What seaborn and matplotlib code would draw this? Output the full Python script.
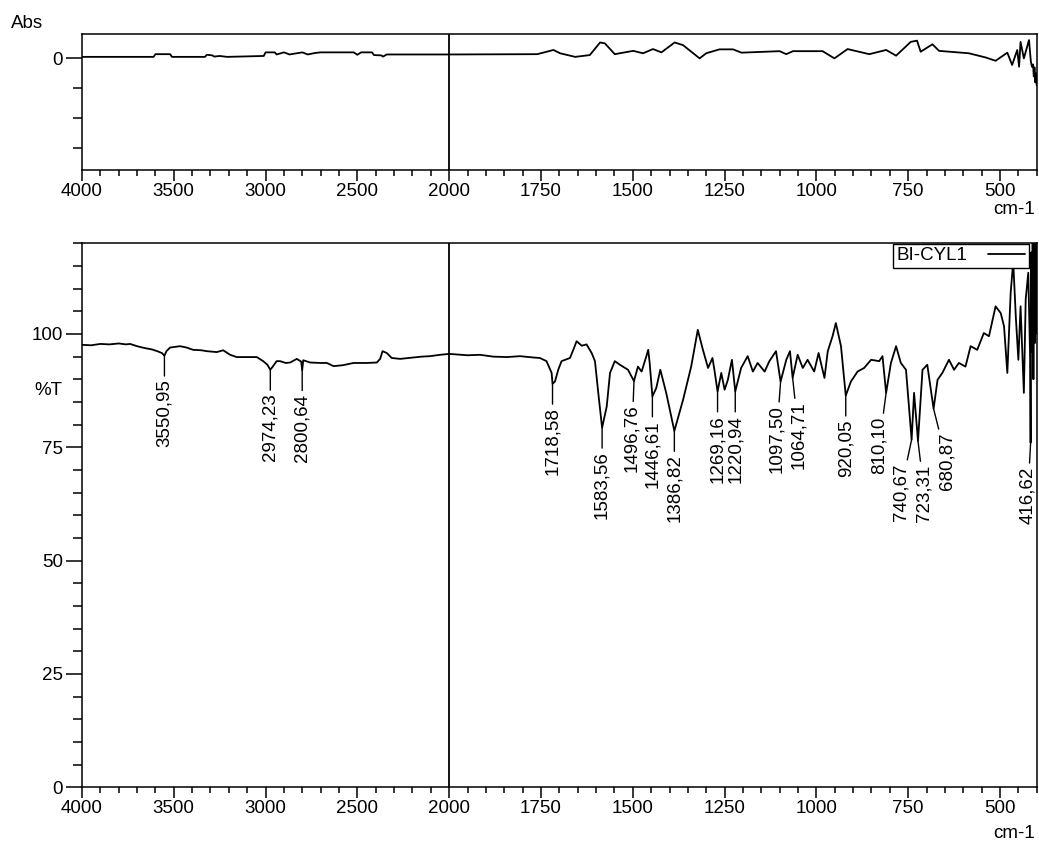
import numpy as np
import pandas as pd
import matplotlib
matplotlib.use("Agg")
import matplotlib.pyplot as plt
from matplotlib.ticker import FixedLocator, NullFormatter
import seaborn as sns

# %T spectrum (wavenumber in cm-1, transmittance in %)
wn_t = [4000, 3950, 3900, 3850, 3800, 3760, 3738, 3700, 3660, 3620, 3590, 3565,
        3550.95, 3540, 3520, 3466, 3430, 3395, 3350, 3320, 3266, 3231, 3193, 3157,
        3100, 3048, 3013, 2990, 2974.23, 2959, 2940, 2921, 2890, 2866, 2830, 2806,
        2800.64, 2795, 2757, 2700, 2666, 2630, 2580, 2521, 2450, 2394, 2376, 2363,
        2340, 2313, 2267, 2200, 2150, 2104, 2050, 2000, 1950, 1916, 1880, 1843,
        1807, 1770, 1753, 1735, 1721, 1718.58, 1712, 1703, 1694, 1671, 1662, 1653,
        1639, 1626, 1612, 1603, 1594, 1583.56, 1571, 1562, 1549, 1535, 1513,
        1496.76, 1486, 1476, 1463, 1458, 1454, 1446.61, 1436, 1425, 1409, 1386.82,
        1363, 1341, 1323, 1309, 1295, 1283, 1277, 1269.16, 1259, 1250, 1241, 1230,
        1220.94, 1205, 1187, 1173, 1160, 1141, 1128, 1110, 1097.50, 1082, 1072,
        1064.71, 1051, 1037, 1024, 1006, 994, 978, 969, 956, 947, 933, 920.05, 906,
        888, 870, 851, 829, 820, 810.10, 797, 783, 770, 756, 740.67, 734, 723.31,
        711, 698, 680.87, 670, 657, 639, 625, 612, 594, 580, 562, 544, 530, 512,
        498, 489, 480, 471, 464, 457, 450, 444, 435, 430, 423, 418, 416.62, 415,
        413, 411, 409, 407, 405, 403, 401, 400]
pct_t = [97.6, 97.5, 97.8, 97.7, 97.9, 97.7, 97.8, 97.3, 96.9, 96.6, 96.2, 95.8,
         95.2, 96.2, 97.0, 97.3, 97.0, 96.5, 96.4, 96.2, 96.0, 96.4, 95.4, 94.9,
         94.9, 94.9, 94.0, 93.2, 92.1, 92.9, 94.0, 94.0, 93.6, 93.7, 94.5, 93.9,
         92.0, 94.2, 93.7, 93.6, 93.6, 92.9, 93.1, 93.6, 93.6, 93.7, 94.5, 96.2,
         95.8, 94.7, 94.5, 94.8, 95.0, 95.1, 95.4, 95.6, 95.3, 95.4, 95.0, 94.9,
         95.1, 94.8, 94.7, 94.0, 91.4, 89.0, 89.5, 92.1, 94.0, 94.7, 96.5, 98.4,
         97.4, 97.7, 95.8, 94.0, 87.0, 79.3, 84.0, 91.4, 94.0, 93.2, 92.1,
         89.6, 92.8, 91.7, 95.1, 96.5, 93.6, 86.2, 88.1, 92.1, 87.0, 78.6,
         85.5, 92.8, 100.9, 96.5, 92.5, 94.7, 91.7, 87.3, 91.4, 87.7, 89.9, 94.3,
         87.3, 92.5, 95.1, 91.7, 93.6, 91.7, 94.0, 96.2, 89.5, 94.3, 96.2,
         90.3, 95.4, 92.5, 94.3, 91.7, 95.8, 90.3, 96.2, 99.5, 102.4, 97.3, 86.4, 89.5,
         91.7, 92.5, 94.3, 94.0, 95.1, 87.0, 93.6, 97.3, 93.6, 92.1, 76.7, 87.0, 76.4,
         92.1, 93.2, 83.5, 89.9, 91.4, 94.3, 92.1, 93.6, 92.8, 97.3, 96.5, 100.2, 99.5, 106.1,
         104.6, 101.7, 91.4, 109.0, 116.0, 103.9, 94.3, 106.1, 87.0, 107.6, 113.5, 95.0, 76.0, 118.0,
         96.0, 125.0, 90.0, 125.0, 98.0, 125.0, 100.0, 112.0]

# absorbance trace (top panel)
wn_a = [4000, 3610, 3600, 3520, 3510, 3330, 3320, 3290, 3280, 3250, 3210, 3010,
        3000, 2950, 2940, 2900, 2870, 2800, 2770, 2730, 2700, 2520, 2500, 2480,
        2420, 2410, 2370, 2360, 2340, 2000, 1760, 1716, 1698, 1657, 1617, 1589,
        1576, 1549, 1499, 1472, 1445, 1422, 1386, 1363, 1318, 1300, 1264, 1227,
        1204, 1100, 1082, 1064, 983, 951, 915, 856, 810, 783, 743, 726, 716, 684,
        666, 585, 539, 512, 480, 467, 453, 448, 444, 435, 421, 416, 413, 410, 408,
        406, 404, 402, 400]
abs_a = [0.005, 0.005, 0.014, 0.014, 0.005, 0.005, 0.012, 0.010, 0.006, 0.008, 0.005, 0.008,
         0.020, 0.020, 0.013, 0.020, 0.013, 0.020, 0.013, 0.018, 0.020, 0.020, 0.012, 0.020,
         0.020, 0.011, 0.010, 0.006, 0.013, 0.013, 0.014, 0.028, 0.017, 0.005, 0.011, 0.053,
         0.050, 0.014, 0.025, 0.017, 0.031, 0.020, 0.053, 0.044, 0.000, 0.017, 0.030, 0.030,
         0.019, 0.024, 0.014, 0.024, 0.024, 0.000, 0.031, 0.014, 0.028, 0.009, 0.055, 0.059, 0.022, 0.047,
         0.025, 0.017, 0.003, -0.008, 0.019, -0.022, 0.028, -0.028, 0.055, 0.000, 0.061, -0.010, -0.028, -0.020, -0.060,
         -0.030, -0.080, -0.050, -0.090]

peak_wn = [3550.95, 2974.23, 2800.64, 1718.58, 1583.56, 1496.76, 1446.61, 1386.82,
           1269.16, 1220.94, 1097.50, 1064.71, 920.05, 810.10, 740.67, 723.31,
           680.87, 416.62]
peak_labels = ["3550,95", "2974,23", "2800,64", "1718,58", "1583,56", "1496,76",
               "1446,61", "1386,82", "1269,16", "1220,94", "1097,50", "1064,71",
               "920,05", "810,10", "740,67", "723,31", "680,87", "416,62"]
# horizontal shift of a few labels (points)
label_dx = {"1496,76": -1.5, "1097,50": -3, "1064,71": 4.5, "810,10": -5,
            "740,67": -8, "723,31": 4.5, "680,87": 9.5, "416,62": -2}

xticks = [4000, 3500, 3000, 2500, 2000, 1750, 1500, 1250, 1000, 750, 500]
xminor = list(range(4000, 2000, -100)) + list(range(2000, 399, -50))


def fwd(x):
    x = np.asarray(x, dtype=float)
    return np.where(x >= 2000, x, 2 * x - 2000)


def inv(u):
    u = np.asarray(u, dtype=float)
    return np.where(u >= 2000, u, (u + 2000) / 2)


sns.set_style("ticks", {"axes.edgecolor": "black", "xtick.color": "black",
                        "ytick.color": "black", "text.color": "black"})
plt.rcParams["font.family"] = ["Liberation Sans", "DejaVu Sans"]
plt.rcParams["font.size"] = 13.5
plt.rcParams["axes.linewidth"] = 1.1

fig = plt.figure(figsize=(10.39, 8.43), dpi=100)
ax_top = fig.add_axes([0.0789, 0.7983, 0.9189, 0.1613])
ax_bot = fig.add_axes([0.0789, 0.0661, 0.9189, 0.6453])

df_a = pd.DataFrame({"wn": wn_a, "val": abs_a})
df_t = pd.DataFrame({"wn": wn_t, "val": pct_t})

sns.lineplot(data=df_a, x="wn", y="val", ax=ax_top, color="black", lw=1.3,
             estimator=None, sort=False)
sns.lineplot(data=df_t, x="wn", y="val", ax=ax_bot, color="black", lw=1.3,
             estimator=None, sort=False, label="BI-CYL1")

for ax in (ax_top, ax_bot):
    ax.set_xscale("function", functions=(fwd, inv))
    ax.set_xlim(4000, 400)
    ax.xaxis.set_major_locator(FixedLocator(xticks))
    ax.xaxis.set_minor_locator(FixedLocator(xminor))
    ax.xaxis.set_minor_formatter(NullFormatter())
    ax.set_xticklabels([str(t) for t in xticks])
    ax.axvline(2000, color="black", lw=1.3)
    ax.set_xlabel("")
    ax.set_ylabel("")
    ax.tick_params(axis="x", which="major", length=8, width=1.1, pad=1, labelsize=13.5)
    ax.tick_params(axis="x", which="minor", length=4.5, width=1.1)
    ax.tick_params(axis="y", which="major", length=11.5, width=1.1, pad=2, labelsize=13.5)
    ax.tick_params(axis="y", which="minor", length=6.5, width=1.1)

ax_top.set_ylim(-0.372, 0.081)
ax_top.yaxis.set_major_locator(FixedLocator([0]))
ax_top.set_yticklabels(["0"])
ax_top.yaxis.set_minor_locator(FixedLocator([-0.1, -0.2, -0.3]))
ax_top.yaxis.set_minor_formatter(NullFormatter())

ax_bot.set_ylim(0, 120)
ax_bot.yaxis.set_major_locator(FixedLocator([0, 25, 50, 75, 100]))
ax_bot.yaxis.set_minor_locator(FixedLocator(list(range(0, 121, 5))))
ax_bot.yaxis.set_minor_formatter(NullFormatter())

# peak labels with leader lines
order = np.argsort(wn_t)
for w, lab in zip(peak_wn, peak_labels):
    tv = np.interp(w, np.array(wn_t)[order], np.array(pct_t)[order])
    ax_bot.annotate(lab, xy=(w, tv), xytext=(label_dx.get(lab, 0), -17),
                    textcoords="offset points", rotation=90, ha="center", va="top",
                    fontsize=13.5,
                    arrowprops=dict(arrowstyle="-", color="black", lw=1.0,
                                    shrinkA=0, shrinkB=0))

leg = ax_bot.legend(loc="upper right", bbox_to_anchor=(1029 / 1039, 1 - 243.5 / 843),
                    bbox_transform=fig.transFigure, borderaxespad=0, frameon=True,
                    fancybox=False, framealpha=1, edgecolor="black", markerfirst=False,
                    handlelength=2.0, handletextpad=1.1, borderpad=0.2, fontsize=13.5)
leg.get_frame().set_linewidth(1.0)

fig.text(11 / 1039, 1 - 23 / 843, "Abs", ha="left", va="center", fontsize=13.5)
fig.text(62 / 1039, 1 - 391 / 843, "%T", ha="right", va="center", fontsize=13.5)
fig.text(1035 / 1039, 1 - 210 / 843, "cm-1", ha="right", va="center", fontsize=13.5)
fig.text(1035 / 1039, 1 - 834 / 843, "cm-1", ha="right", va="center", fontsize=13.5)

fig.savefig("out.png", dpi=100)
